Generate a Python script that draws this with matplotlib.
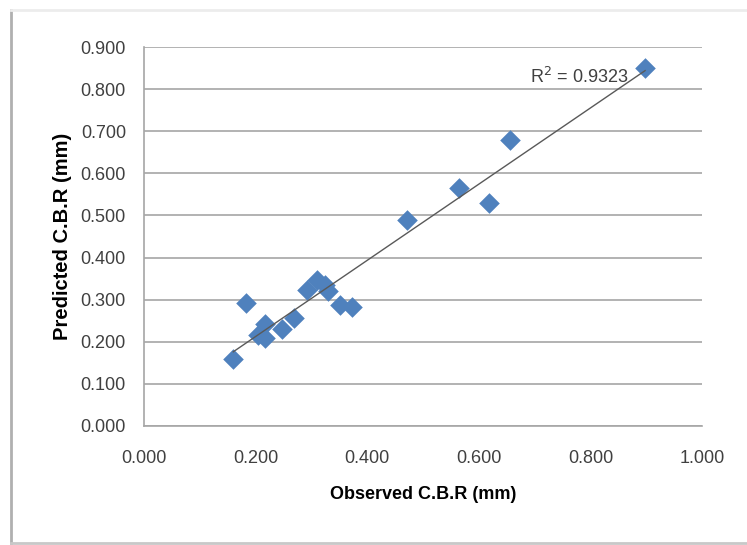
import numpy as np
import matplotlib.pyplot as plt
from matplotlib.lines import Line2D

plt.rcParams['font.family'] = ['Liberation Sans', 'DejaVu Sans']

# observed vs predicted C.B.R values
observed = [0.160, 0.182, 0.205, 0.216, 0.217, 0.247, 0.269, 0.292, 0.310,
            0.325, 0.330, 0.351, 0.372, 0.471, 0.565, 0.618, 0.656, 0.898]
predicted = [0.158, 0.292, 0.215, 0.243, 0.209, 0.231, 0.257, 0.322, 0.346,
             0.335, 0.320, 0.288, 0.282, 0.490, 0.566, 0.530, 0.680, 0.850]
r2_text = 'R$^2$ = 0.9323'

x_ticks = np.arange(0, 1.001, 0.2)
y_ticks = np.arange(0, 0.901, 0.1)

fig = plt.figure(figsize=(7.47, 5.45), dpi=100)
ax = fig.add_axes([144/747, 1 - 426/545, (702 - 144)/747, (426 - 47)/545])

# chart area frame (left/bottom shadowed, top faint)
W, H = 747, 545
fig.lines.append(Line2D([11/W, 11/W], [2/H, 535/H], transform=fig.transFigure,
                        color='#b0b0b0', linewidth=2))
fig.lines.append(Line2D([11/W, 1], [2/H, 2/H], transform=fig.transFigure,
                        color='#c8c8c8', linewidth=2))
fig.lines.append(Line2D([11/W, 1], [535/H, 535/H], transform=fig.transFigure,
                        color='#ececec', linewidth=2))

ax.scatter(observed, predicted, marker='D', s=110, color='#4F81BD', zorder=3, linewidths=0)

# linear trendline
coef = np.polyfit(observed, predicted, 1)
xs = np.array([min(observed), max(observed)])
ax.plot(xs, np.polyval(coef, xs), color='#595959', linewidth=1.0, zorder=4)
ax.text(0.692, 0.805, r2_text, fontsize=13, color='#404040', va='bottom', ha='left')

ax.set_xlim(0, 1.0)
ax.set_ylim(0, 0.9)
ax.set_xticks(x_ticks)
ax.set_yticks(y_ticks)
ax.set_xticklabels([f'{v:.3f}' for v in x_ticks])
ax.set_yticklabels([f'{v:.3f}' for v in y_ticks])
ax.tick_params(axis='both', length=0, labelsize=13, colors='#404040')
ax.tick_params(axis='x', pad=17)
ax.tick_params(axis='y', pad=13)

ax.grid(axis='y', color='#a6a6a6', linewidth=1.2)
ax.set_axisbelow(True)
for s in ['top', 'right']:
    ax.spines[s].set_visible(False)
ax.spines['left'].set_color('#a6a6a6')
ax.spines['bottom'].set_color('#a6a6a6')
ax.spines['left'].set_linewidth(1.2)
ax.spines['bottom'].set_linewidth(1.2)

ax.set_xlabel('Observed C.B.R (mm)', fontsize=13, fontweight='bold', labelpad=14)
ax.set_ylabel('Predicted C.B.R (mm)', fontsize=14.5, fontweight='bold', labelpad=6)

fig.savefig('out.png', dpi=100)
